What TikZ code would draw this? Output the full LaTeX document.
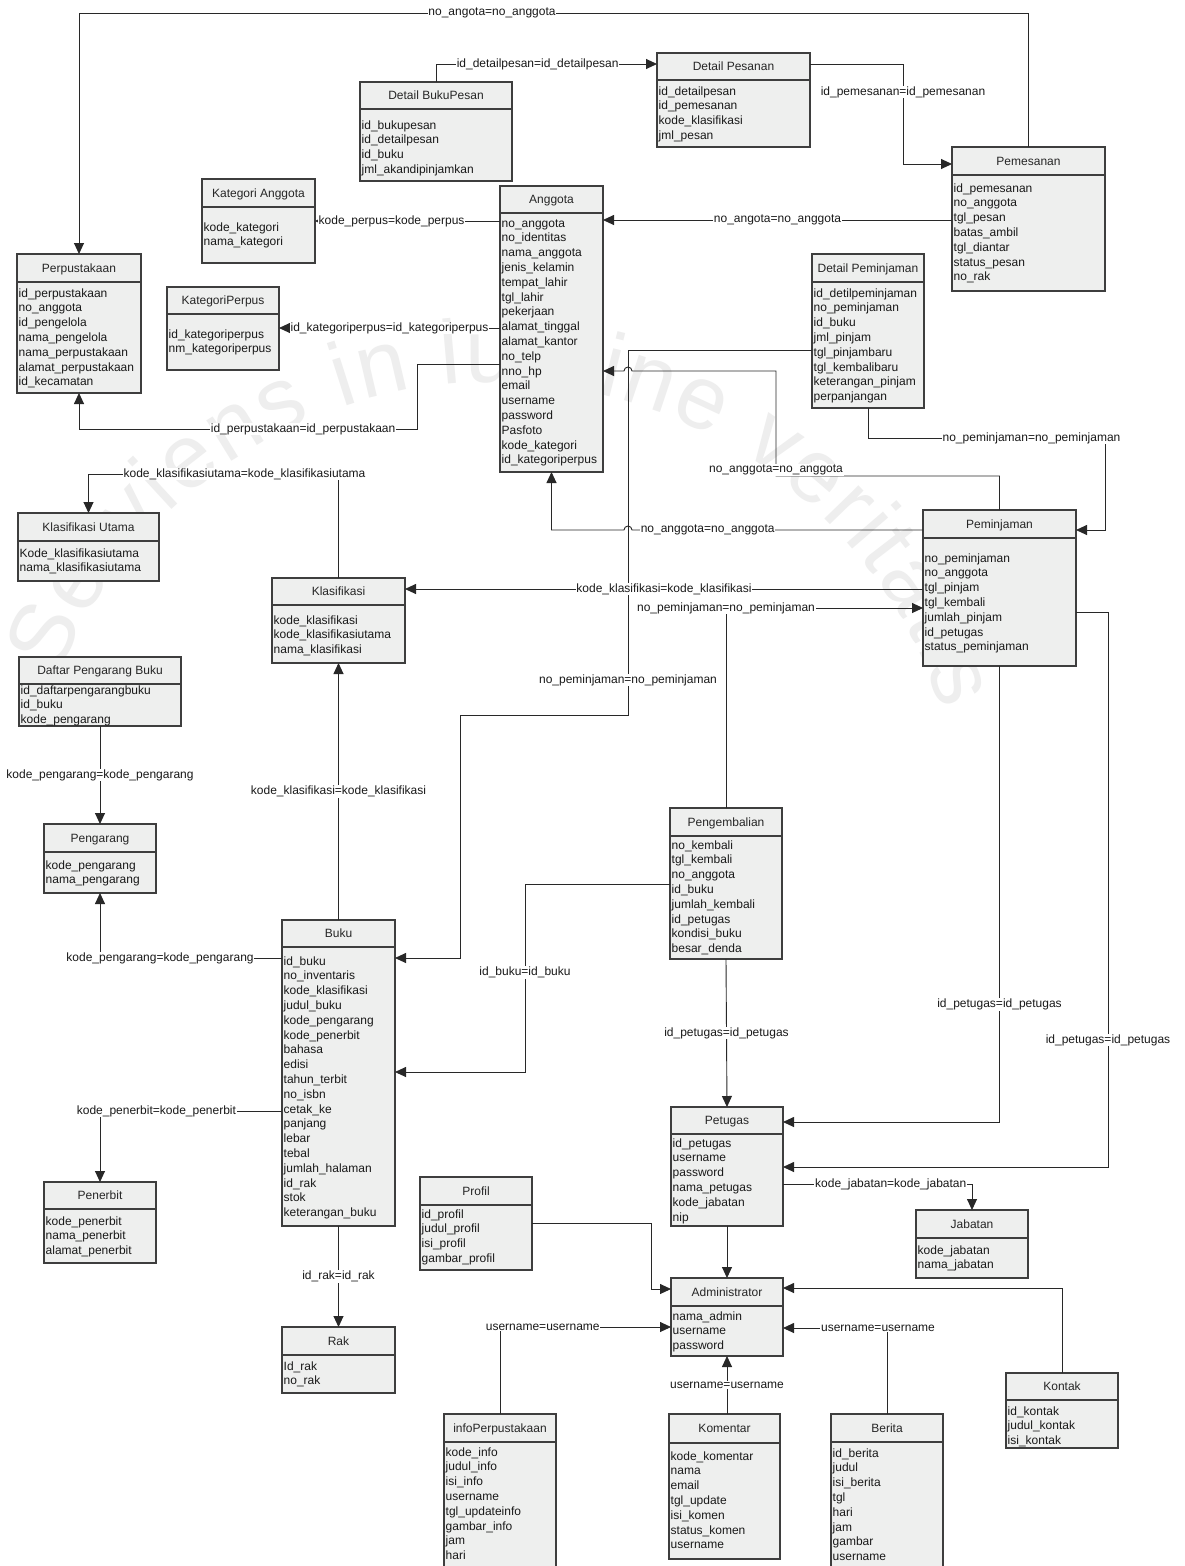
\documentclass[tikz,border=0pt]{standalone}
\usepackage{fontspec}
\setmainfont{Liberation Sans}
\usetikzlibrary{arrows.meta, fit, decorations.text}

\definecolor{boxfill}{RGB}{238,239,238}
\definecolor{boxline}{RGB}{62,62,62}
\definecolor{relline}{RGB}{40,40,40}
\definecolor{wmark}{RGB}{238,238,238}

% one table: name, top left, bottom right, header line, title, first row, rows
\newcommand{\entity}[9]{%
  \node[ent, fit={(#2,#3) (#4,#5)}] (#1) {};
  \draw[entsep] (#2,#6) -- (#4,#6);
  \node[enttitle] at ({(#2+#4)/2},{(#3+#6)/2+4.3}) {#7};
  \foreach \r [count=\i from 0] in {#9}
    \node[entrow] at ({#2+1.5},{#8+4+14.8*\i}) {\r};
}

\begin{document}
\catcode`\_=12
\begin{tikzpicture}[x=1pt, y=-1pt,
    font=\fontsize{12pt}{14.8pt}\selectfont,
    ent/.style={draw=boxline, fill=boxfill, line width=1.1pt, inner sep=0pt, outer sep=0pt},
    entsep/.style={boxline, line width=1.1pt},
    enttitle/.style={anchor=base, inner sep=0pt, text=black!85},
    entrow/.style={anchor=base west, inner sep=0pt, text=black!90},
    fk/.style={draw=relline, line width=0.9pt, -{Triangle[length=11pt, width=10pt]}},
    lbl/.style={fill=white, inner sep=0.8pt, text=black!90}
  ]
  \useasboundingbox (0,0) rectangle (1184,1566);
  \fill[white] (0,0) rectangle (1184,1566);

  % watermark
  \path[decorate, decoration={text along path, text color=wmark, text align={fit to path},
        text={|\fontsize{90pt}{90pt}\selectfont|Serviens in lumine veritatis}}]
    (58,676) arc[start angle=-158, end angle=-17.5, radius=470];

  \entity{perpus}{17}{254}{141}{393}{282}{Perpustakaan}{293}{id_perpustakaan, no_anggota, id_pengelola, nama_pengelola, nama_perpustakaan, alamat_perpustakaan, id_kecamatan}
  \entity{katanggota}{202}{179}{315}{263}{207}{Kategori Anggota}{227}{kode_kategori, nama_kategori}
  \entity{katperpus}{167}{287}{279}{370}{314}{KategoriPerpus}{334}{id_kategoriperpus, nm_kategoriperpus}
  \entity{detbukupesan}{360}{82}{512}{181}{109}{Detail BukuPesan}{125}{id_bukupesan, id_detailpesan, id_buku, jml_akandipinjamkan}
  \entity{detpesanan}{657}{53}{810}{147}{80}{Detail Pesanan}{91}{id_detailpesan, id_pemesanan, kode_klasifikasi, jml_pesan}
  \entity{pemesanan}{952}{147}{1105}{291}{175}{Pemesanan}{188}{id_pemesanan, no_anggota, tgl_pesan, batas_ambil, tgl_diantar, status_pesan, no_rak}
  \entity{anggota}{500}{186}{603}{472}{213}{Anggota}{223}{no_anggota, no_identitas, nama_anggota, jenis_kelamin, tempat_lahir, tgl_lahir, pekerjaan, alamat_tinggal, alamat_kantor, no_telp, nno_hp, email, username, password, Pasfoto, kode_kategori, id_kategoriperpus}
  \entity{detpinjam}{812}{254}{924}{408}{282}{Detail Peminjaman}{293}{id_detilpeminjaman, no_peminjaman, id_buku, jml_pinjam, tgl_pinjambaru, tgl_kembalibaru, keterangan_pinjam, perpanjangan}
  \entity{peminjaman}{923}{510}{1076}{666}{538}{Peminjaman}{558}{no_peminjaman, no_anggota, tgl_pinjam, tgl_kembali, jumlah_pinjam, id_petugas, status_peminjaman}
  \entity{klasutama}{18}{513}{159}{581}{541}{Klasifikasi Utama}{553}{Kode_klasifikasiutama, nama_klasifikasiutama}
  \entity{klasifikasi}{272}{578}{405}{663}{605}{Klasifikasi}{620}{kode_klasifikasi, kode_klasifikasiutama, nama_klasifikasi}
  \entity{daftarpengarang}{19}{657}{181}{726}{684}{Daftar Pengarang Buku}{690}{id_daftarpengarangbuku, id_buku, kode_pengarang}
  \entity{pengarang}{44}{824}{156}{893}{852}{Pengarang}{865}{kode_pengarang, nama_pengarang}
  \entity{buku}{282}{920}{395}{1226}{947}{Buku}{961}{id_buku, no_inventaris, kode_klasifikasi, judul_buku, kode_pengarang, kode_penerbit, bahasa, edisi, tahun_terbit, no_isbn, cetak_ke, panjang, lebar, tebal, jumlah_halaman, id_rak, stok, keterangan_buku}
  \entity{penerbit}{44}{1182}{156}{1263}{1209}{Penerbit}{1221}{kode_penerbit, nama_penerbit, alamat_penerbit}
  \entity{rak}{282}{1327}{395}{1393}{1355}{Rak}{1366}{Id_rak, no_rak}
  \entity{pengembalian}{670}{808}{782}{959}{836}{Pengembalian}{845}{no_kembali, tgl_kembali, no_anggota, id_buku, jumlah_kembali, id_petugas, kondisi_buku, besar_denda}
  \entity{petugas}{671}{1107}{783}{1226}{1134}{Petugas}{1143}{id_petugas, username, password, nama_petugas, kode_jabatan, nip}
  \entity{jabatan}{916}{1210}{1028}{1278}{1238}{Jabatan}{1250}{kode_jabatan, nama_jabatan}
  \entity{profil}{420}{1177}{532}{1270}{1205}{Profil}{1214}{id_profil, judul_profil, isi_profil, gambar_profil}
  \entity{admin}{671}{1278}{783}{1356}{1306}{Administrator}{1316}{nama_admin, username, password}
  \entity{kontak}{1006}{1373}{1118}{1448}{1400}{Kontak}{1411}{id_kontak, judul_kontak, isi_kontak}
  \entity{infoperpus}{444}{1414}{556}{1590}{1442}{infoPerpustakaan}{1452}{kode_info, judul_info, isi_info, username, tgl_updateinfo, gambar_info, jam, hari}
  \entity{komentar}{669}{1414}{780}{1559}{1443}{Komentar}{1456}{kode_komentar, nama, email, tgl_update, isi_komen, status_komen, username}
  \entity{berita}{831}{1414}{943}{1590}{1442}{Berita}{1453}{id_berita, judul, isi_berita, tgl, hari, jam, gambar, username}

  % relations
  \draw[fk] (pemesanan.north) -- (pemesanan.north |- 0,13) -- node[lbl, pos=0.565]{no_angota=no_anggota} (perpus.north |- 0,13) -- (perpus.north);
  \draw[fk] (detbukupesan.north) -- (detbukupesan.north |- 0,64) -- node[lbl, pos=0.46]{id_detailpesan=id_detailpesan} (detpesanan.west |- 0,64);
  \draw[fk] (detpesanan.east |- 0,64) -- (903,64) -- node[lbl, pos=0.28]{id_pemesanan=id_pemesanan} (903,164) -- (pemesanan.west |- 0,164);
  \draw[fk] (pemesanan.west |- 0,220) -- node[lbl]{no_angota=no_anggota} (anggota.east |- 0,220);
  \draw[fk] (anggota.west |- 0,221) -- node[lbl, pos=0.586]{kode_perpus=kode_perpus} (katanggota.east |- 0,221);
  \draw[fk] (anggota.west |- 0,328) -- node[lbl]{id_kategoriperpus=id_kategoriperpus} (katperpus.east |- 0,328);
  \draw[fk] (anggota.west |- 0,364) -- (417,364) -- (417,429) -- node[lbl, pos=0.337]{id_perpustakaan=id_perpustakaan} (perpus.south |- 0,429) -- (perpus.south);
  \draw[fk] (detpinjam.west |- 0,350) -- (628,350) -- node[lbl, pos=0.904]{no_peminjaman=no_peminjaman} (628,715) -- (460,715) -- (460,958) -- (buku.east |- 0,958);
  \draw[fk] (peminjaman.north) -- (peminjaman.north |- 0,476) -- node[lbl, anchor=south, pos=1]{no_anggota=no_anggota} (776,476) -- (776,371) -- (632,371) arc[start angle=0, end angle=-180, radius=4] -- (anggota.east |- 0,371);
  \draw[fk] (peminjaman.west |- 0,530) -- node[lbl, pos=0.74]{no_anggota=no_anggota} (632,530) arc[start angle=0, end angle=-180, radius=4] -- (anggota.south |- 0,530) -- (anggota.south);
  \draw[fk] (peminjaman.west |- 0,589) -- node[lbl]{kode_klasifikasi=kode_klasifikasi} (klasifikasi.east |- 0,589);
  \draw[fk] (pengembalian.north) -- (pengembalian.north |- 0,608) node[lbl]{no_peminjaman=no_peminjaman} -- (peminjaman.west |- 0,608);
  \draw[fk] (peminjaman.south) -- node[lbl, pos=0.743]{id_petugas=id_petugas} (peminjaman.south |- 0,1122) -- (petugas.east |- 0,1122);
  \draw[fk] (peminjaman.east |- 0,612) -- (1108,612) -- node[lbl, pos=0.771]{id_petugas=id_petugas} (1108,1167) -- (petugas.east |- 0,1167);
  \draw[fk] (detpinjam.south) -- (detpinjam.south |- 0,438) -- node[lbl, pos=0.69]{no_peminjaman=no_peminjaman} (1105,438) -- (1105,530) -- (peminjaman.east |- 0,530);
  \draw[fk] (klasifikasi.north) -- (klasifikasi.north |- 0,474) -- node[lbl, pos=0.376]{kode_klasifikasiutama=kode_klasifikasiutama} (klasutama.north |- 0,474) -- (klasutama.north);
  \draw[fk] (buku.north) -- node[lbl]{kode_klasifikasi=kode_klasifikasi} (klasifikasi.south);
  \draw[fk] (daftarpengarang.south) -- node[lbl]{kode_pengarang=kode_pengarang} (pengarang.north);
  \draw[fk] (buku.west |- 0,958) -- node[lbl, pos=0.67]{kode_pengarang=kode_pengarang} (pengarang.south |- 0,958) -- (pengarang.south);
  \draw[fk] (buku.west |- 0,1111) -- node[lbl, pos=0.69]{kode_penerbit=kode_penerbit} (penerbit.north |- 0,1111) -- (penerbit.north);
  \draw[fk] (buku.south) -- node[lbl]{id_rak=id_rak} (rak.north);
  \draw[fk] (pengembalian.west |- 0,884) -- (525,884) -- node[lbl, pos=0.47]{id_buku=id_buku} (525,1072) -- (buku.east |- 0,1072);
  \draw[fk] (pengembalian.south) -- node[lbl]{id_petugas=id_petugas} (petugas.north);
  \draw[fk] (petugas.east |- 0,1184) -- node[lbl, pos=0.57]{kode_jabatan=kode_jabatan} (jabatan.north |- 0,1184) -- (jabatan.north);
  \draw[fk] (petugas.south) -- (admin.north);
  \draw[fk] (profil.east |- 0,1223) -- (651,1223) -- (651,1289) -- (admin.west |- 0,1289);
  \draw[fk] (infoperpus.north) -- (infoperpus.north |- 0,1327) -- node[lbl, pos=0.25]{username=username} (admin.west |- 0,1327);
  \draw[fk] (admin.south |- komentar.north) -- node[lbl]{username=username} (admin.south);
  \draw[fk] (berita.north) -- (berita.north |- 0,1328) node[lbl, xshift=-9pt]{username=username} -- (admin.east |- 0,1328);
  \draw[fk] (kontak.north) -- (kontak.north |- 0,1288) -- (admin.east |- 0,1288);
\end{tikzpicture}
\end{document}
